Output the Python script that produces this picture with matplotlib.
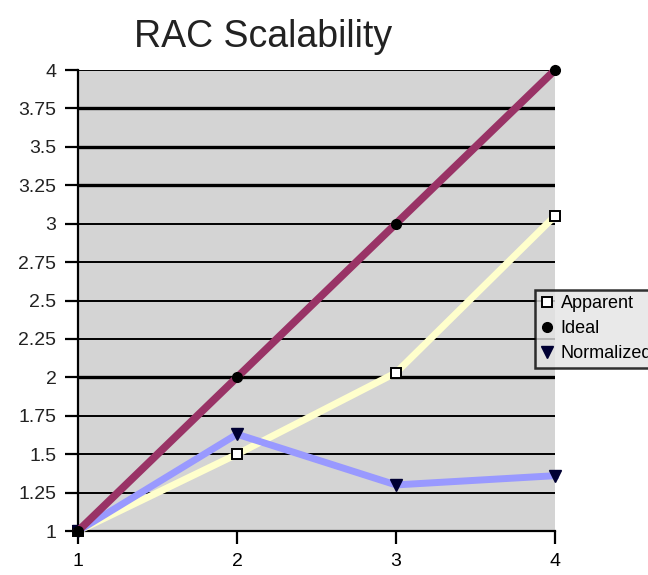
import matplotlib.pyplot as plt

nodes = [1, 2, 3, 4]
apparent = [1.0, 1.5, 2.03, 3.05]
ideal = [1.0, 2.0, 3.0, 4.0]
normalized = [1.0, 1.63, 1.30, 1.36]
yticks = [1, 1.25, 1.5, 1.75, 2, 2.25, 2.5, 2.75, 3, 3.25, 3.5, 3.75, 4]
ytick_labels = ['1', '1.25', '1.5', '1.75', '2', '2.25', '2.5', '2.75', '3', '3.25', '3.5', '3.75', '4']
thick_grid = [2, 3.25, 3.5, 3.75]

plt.rcParams['font.family'] = 'Liberation Sans'

fig = plt.figure(figsize=(6.48, 5.75), dpi=100)
ax = fig.add_axes([0.1204, 0.0765, 0.736, 0.8017])
ax.set_facecolor('#D4D4D4')

for y in yticks[1:]:
    ax.axhline(y, color='black', lw=2.4 if y in thick_grid else 1.4, zorder=1)

ax.plot(nodes, apparent, color='#FFFFCC', lw=5, marker='s', ms=7,
        mfc='white', mec='black', mew=1.4, label='Apparent', zorder=3, clip_on=False)
ax.plot(nodes, normalized, color='#9999FF', lw=5, marker='v', ms=8,
        mfc='#000033', mec='#000033', label='Normalized', zorder=4, clip_on=False)
ax.plot(nodes, ideal, color='#993366', lw=5.5, marker='o', ms=7,
        mfc='black', mec='black', label='Ideal', zorder=5, clip_on=False)

ax.set_xlim(1, 4)
ax.set_ylim(1, 4)
ax.set_xticks(nodes)
ax.set_yticks(yticks)
ax.set_yticklabels(ytick_labels)
ax.tick_params(labelsize=14, length=9.5, width=1.6, pad=6, colors='black')
ax.tick_params(axis='y', labelcolor='#222222')
for s in ['top', 'right']:
    ax.spines[s].set_visible(False)
for s in ['left', 'bottom']:
    ax.spines[s].set_linewidth(1.6)

handles, labels = ax.get_legend_handles_labels()
order = [0, 2, 1]
leg = fig.legend([handles[i] for i in order], [labels[i] for i in order],
                 loc='upper left', bbox_to_anchor=(0.826, 0.496),
                 fontsize=13, frameon=True, fancybox=False, handlelength=0.7,
                 handletextpad=0.4, borderpad=0.3, labelspacing=0.45,
                 borderaxespad=0)
leg.get_frame().set_edgecolor('black')
leg.get_frame().set_linewidth(1.8)
leg.get_frame().set_facecolor('#E4E4E4')
for h in leg.legend_handles:
    h.set_linestyle('none')

fig.text(0.406, 0.918, 'RAC Scalability', fontsize=27, ha='center', va='baseline',
         color='#222222')

fig.savefig('out.png', dpi=100)
